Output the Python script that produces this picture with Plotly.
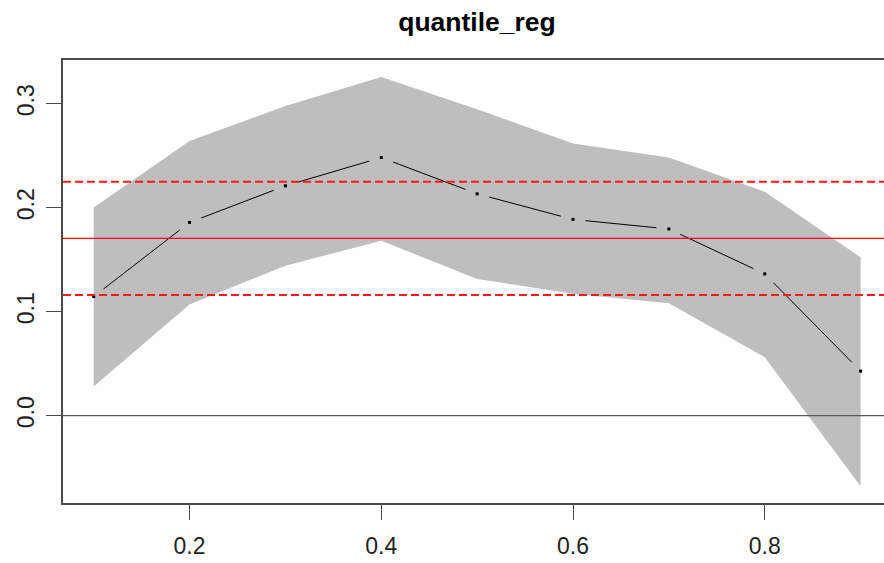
import plotly.graph_objects as go

# Quantile regression coefficients by quantile, with confidence band
tau = [0.1, 0.2, 0.3, 0.4, 0.5, 0.6, 0.7, 0.8, 0.9]
coef = [0.1145, 0.1858, 0.2210, 0.2482, 0.2133, 0.1887, 0.1795, 0.1363, 0.0428]
lower = [0.0281, 0.1068, 0.1442, 0.1682, 0.1315, 0.1171, 0.1081, 0.0562, -0.0679]
upper = [0.2002, 0.2642, 0.2978, 0.3256, 0.2946, 0.2616, 0.2482, 0.2153, 0.1522]

# OLS estimate and its confidence interval
ols_est = 0.1705
ols_lo = 0.1161
ols_hi = 0.2249

x_ticks = [0.2, 0.4, 0.6, 0.8]
y_ticks = [0.0, 0.1, 0.2, 0.3]

W, H = 884, 563
M_L, M_R, M_T, M_B = 63, 0, 60, 60
x_range = [0.068, 0.9244]
y_range = [-0.084, 0.342]

px_x = (W - M_L - M_R) / (x_range[1] - x_range[0])
px_y = (H - M_T - M_B) / (y_range[1] - y_range[0])

fig = go.Figure()

# confidence band polygon
fig.add_trace(go.Scatter(
    x=tau + tau[::-1], y=upper + lower[::-1],
    fill="toself", fillcolor="#BEBEBE", mode="lines",
    line=dict(width=0, color="#BEBEBE"), hoverinfo="skip", showlegend=False))

# horizontal reference lines
fig.add_hline(y=0, line=dict(color="#5a5a5a", width=1.2))
fig.add_hline(y=ols_est, line=dict(color="#FF0000", width=1.4))
fig.add_hline(y=ols_hi, line=dict(color="#FF1a1a", width=2, dash="8px,4px"))
fig.add_hline(y=ols_lo, line=dict(color="#FF1a1a", width=2, dash="8px,4px"))

# "both" style line: segments stop short of each point
gap_px = 12.5
seg_x, seg_y = [], []
for i in range(len(tau) - 1):
    dx = (tau[i + 1] - tau[i]) * px_x
    dy = (coef[i + 1] - coef[i]) * px_y
    L = (dx * dx + dy * dy) ** 0.5
    f = gap_px / L
    if f >= 0.5:
        continue
    x0 = tau[i] + (tau[i + 1] - tau[i]) * f
    y0 = coef[i] + (coef[i + 1] - coef[i]) * f
    x1 = tau[i + 1] - (tau[i + 1] - tau[i]) * f
    y1 = coef[i + 1] - (coef[i + 1] - coef[i]) * f
    seg_x += [x0, x1, None]
    seg_y += [y0, y1, None]

fig.add_trace(go.Scatter(
    x=seg_x, y=seg_y, mode="lines", line=dict(color="black", width=1),
    hoverinfo="skip", showlegend=False))
fig.add_trace(go.Scatter(
    x=tau, y=coef, mode="markers",
    marker=dict(symbol="square", size=3, color="black", line=dict(width=0)),
    showlegend=False))

tick_font = dict(family="Liberation Sans Narrow, Arial Narrow, Liberation Sans, Arial",
                 size=23, color="#222222")

fig.update_layout(
    width=W, height=H,
    margin=dict(l=M_L, r=M_R, t=M_T, b=M_B, pad=0),
    paper_bgcolor="white", plot_bgcolor="white",
    title=dict(text="<b>quantile_reg</b>", x=477 / W, xanchor="center",
               xref="container", y=1 - 22 / H, yanchor="middle", yref="container",
               font=dict(family="Liberation Sans, Arial", size=26.5, color="black")),
    xaxis=dict(range=x_range, tickvals=x_ticks, ticktext=[f"{v:.1f}" for v in x_ticks],
               showgrid=False, zeroline=False, showline=True, mirror=True,
               linecolor="#4a4a4a", linewidth=1.5, ticks="outside", ticklen=15,
               tickwidth=1.2, tickcolor="#4a4a4a", tickfont=tick_font,
               ticklabelstandoff=7),
    yaxis=dict(range=y_range, tickvals=y_ticks, ticktext=[f"{v:.1f}" for v in y_ticks],
               showgrid=False, zeroline=False, showline=True, mirror=False,
               linecolor="#4a4a4a", linewidth=1.5, ticks="outside", ticklen=15,
               tickwidth=1.2, tickcolor="#4a4a4a", tickfont=tick_font,
               tickangle=-90, ticklabelstandoff=3),
)

fig.write_html("out.html")
